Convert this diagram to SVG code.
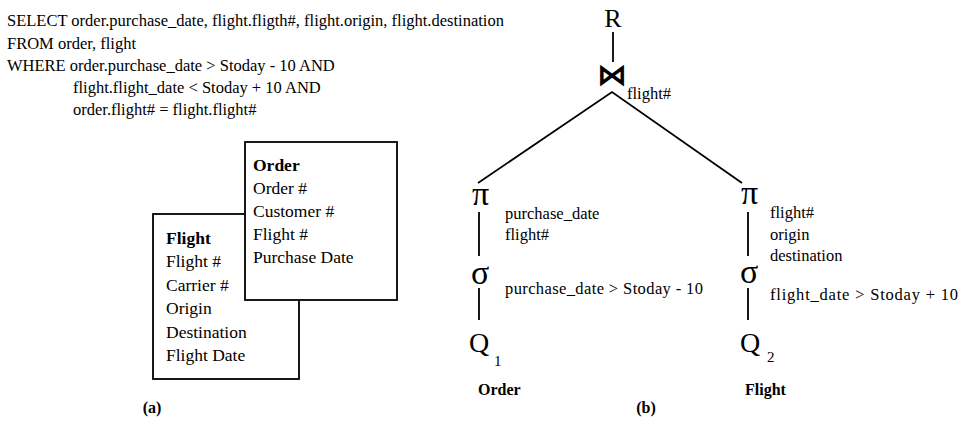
<svg xmlns="http://www.w3.org/2000/svg" width="962" height="440" viewBox="0 0 962 440">
<style>
text{font-family:"Liberation Serif","Times New Roman",serif;fill:#000}
.sql{font-size:16.5px}
.box{fill:#fff;stroke:#000;stroke-width:1.8}
.bt{font-size:17.5px}
.b{font-weight:bold}
.sym{font-size:34px}
.lbl{font-size:16.5px}
.edge{stroke:#000;stroke-width:1.8;fill:none}
.cap{font-size:16px;font-weight:bold}
</style>
<rect width="962" height="440" fill="#fff"/>
<g id="query">
<text class="sql" x="7" y="26">SELECT order.purchase_date, flight.fligth#, flight.origin, flight.destination</text>
<text class="sql" x="7" y="49">FROM order, flight</text>
<text class="sql" x="7" y="71">WHERE order.purchase_date &gt; Stoday - 10 AND</text>
<text class="sql" x="73" y="93">flight.flight_date &lt; Stoday + 10 AND</text>
<text class="sql" x="73" y="115">order.flight# = flight.flight#</text>
</g>
<g id="flight-table">
<rect class="box" x="153" y="214" width="146" height="165"/>
<text class="bt b" x="166" y="244">Flight</text>
<text class="bt" x="166" y="267">Flight #</text>
<text class="bt" x="166" y="291">Carrier #</text>
<text class="bt" x="166" y="314">Origin</text>
<text class="bt" x="166" y="338">Destination</text>
<text class="bt" x="166" y="361">Flight Date</text>
</g>
<g id="order-table">
<rect class="box" x="245" y="142" width="152" height="158"/>
<text class="bt b" x="253" y="171">Order</text>
<text class="bt" x="253" y="194">Order #</text>
<text class="bt" x="253" y="217">Customer #</text>
<text class="bt" x="253" y="240">Flight #</text>
<text class="bt" x="253" y="263">Purchase Date</text>
</g>
<g id="connectors">
<line class="edge" x1="613" y1="32" x2="613" y2="62"/>
<polyline class="edge" points="478,183 612,92 742,183"/>
<line class="edge" x1="479" y1="212" x2="479" y2="256"/>
<line class="edge" x1="479" y1="288" x2="479" y2="320"/>
<line class="edge" x1="748" y1="212" x2="748" y2="256"/>
<line class="edge" x1="748" y1="288" x2="748" y2="320"/>
</g>
<g id="R">
<text x="613" y="27" font-size="26" text-anchor="middle">R</text>
</g>
<g id="join">
<text x="612" y="85" font-size="30" font-weight="bold" text-anchor="middle" style="font-family:'DejaVu Sans',sans-serif">⋈</text>
<text class="lbl" x="627" y="99">flight#</text>
</g>
<g id="proj1">
<text class="sym" x="472" y="205">π</text>
<text class="lbl" x="505" y="219">purchase_date</text>
<text class="lbl" x="505" y="240">flight#</text>
</g>
<g id="sel1">
<text class="sym" x="471" y="284">σ</text>
<text class="lbl" x="505" y="294" textLength="198">purchase_date &gt; Stoday - 10</text>
</g>
<g id="q1">
<text x="469" y="352" font-size="28">Q</text>
<text x="494" y="366" font-size="15">1</text>
<text class="cap" x="478" y="395">Order</text>
</g>
<g id="proj2">
<text class="sym" x="741" y="204">π</text>
<text class="lbl" x="770" y="218">flight#</text>
<text class="lbl" x="770" y="240">origin</text>
<text class="lbl" x="770" y="261">destination</text>
</g>
<g id="sel2">
<text class="sym" x="740" y="283">σ</text>
<text class="lbl" x="770" y="300" textLength="188">flight_date &gt; Stoday + 10</text>
</g>
<g id="q2">
<text x="740" y="352" font-size="28">Q</text>
<text x="767" y="362" font-size="15">2</text>
<text class="cap" x="745" y="395">Flight</text>
</g>
<g id="captions">
<text class="cap" x="152" y="413" text-anchor="middle">(a)</text>
<text class="cap" x="646" y="413" text-anchor="middle">(b)</text>
</g>
</svg>
